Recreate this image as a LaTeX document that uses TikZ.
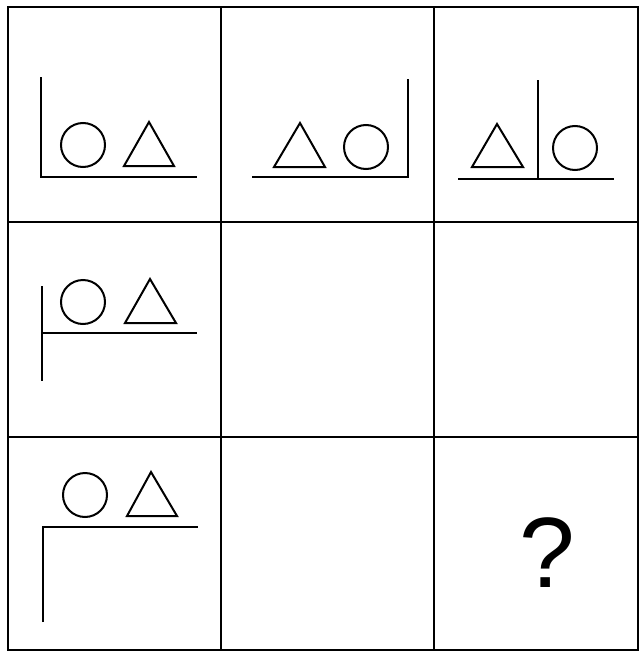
\documentclass[tikz,border=0pt]{standalone}
\usepackage{fontspec}
\setmainfont{Liberation Sans}
\usetikzlibrary{positioning}

\begin{document}
\begin{tikzpicture}[x=1pt, y=-1pt, grid/.style={line width=2pt, line cap=rect},
    figure/.style={line width=2pt, line join=miter},
    bar/.style={line width=2.2pt}]
  \useasboundingbox (0,0) rectangle (639,653);
  % frame and cells
  \draw[grid] (8,7) rectangle (638,650);
  \draw[grid] (221,7) -- (221,650) (434,7) -- (434,650);
  \draw[grid] (8,222) -- (638,222) (8,437) -- (638,437);
  % row 1
  \draw[bar] (41,77) -- (41,177) -- (197,177);
  \draw[figure] (83,145) circle (22);
  \draw[figure] (124,166) -- (174,166) -- (149,122) -- cycle;
  \draw[bar] (252,177) -- (408,177) -- (408,79);
  \draw[figure] (274,167) -- (325,167) -- (300,123) -- cycle;
  \draw[figure] (366,147) circle (22);
  \draw[bar] (458,179) -- (614,179) (538,179) -- (538,80);
  \draw[figure] (472,167) -- (523,167) -- (497,124) -- cycle;
  \draw[figure] (575,148) circle (22);
  % row 2
  \draw[bar] (42,286) -- (42,381) (42,333) -- (197,333);
  \draw[figure] (83,302) circle (22);
  \draw[figure] (125,323) -- (176,323) -- (150,279) -- cycle;
  % row 3
  \draw[bar] (43,622) -- (43,527) -- (198,527);
  \draw[figure] (85,495) circle (22);
  \draw[figure] (127,516) -- (177,516) -- (151,472) -- cycle;
  \node[font=\fontsize{100}{100}\selectfont, inner sep=0pt] (ask) at (547,553) {?};
\end{tikzpicture}
\end{document}
